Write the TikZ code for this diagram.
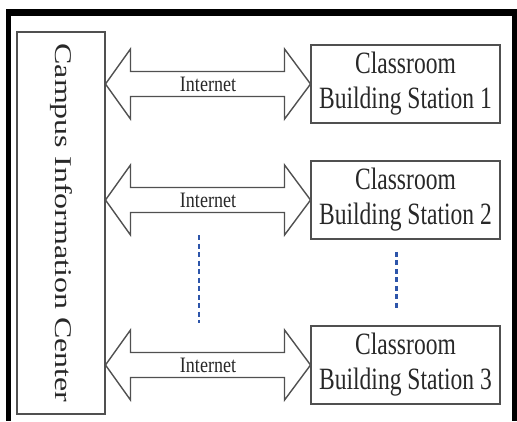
\documentclass[tikz,border=0pt]{standalone}
\usepackage{fontspec}
\setmainfont{Liberation Serif}
\usetikzlibrary{calc}
\definecolor{linegray}{RGB}{80,80,80}
\definecolor{textgray}{RGB}{40,40,40}
\definecolor{dotblue}{RGB}{45,85,170}

\begin{document}
\begin{tikzpicture}[
  x=1pt, y=-1pt,
  hub/.style={draw=linegray, line width=1.6pt, xscale=0.75, rotate=-90, minimum width=382pt, minimum height=117pt, inner sep=0pt, text=textgray, font=\fontsize{32}{36}\selectfont},
  station/.style={draw=linegray, line width=1.9pt, xscale=0.76, minimum width=248pt, minimum height=78pt, inner sep=0pt, align=center, text=textgray, font=\fontsize{31}{35}\selectfont},
  netarrow/.style={draw=linegray, line width=1.4pt, fill=white},
  netlabel/.style={xscale=0.82, inner sep=0pt, text=textgray, font=\fontsize{22}{24}\selectfont},
  gap/.style={draw=dotblue, line width=2.8pt, dash pattern=on 5pt off 3.5pt}
]
  \useasboundingbox (0,0) rectangle (517,421);
  % black frame, open at the bottom
  \fill[black] (6,9) rectangle (517,16);
  \fill[black] (6,9) rectangle (11,421);
  \fill[black] (512,9) rectangle (517,421);

  \node[hub] (campus) at (61,223) {Campus Information Center};

  \node[station] (st1) at (405.5,84) {Classroom\\Building Station 1};
  \node[station] (st2) at (405.5,200) {Classroom\\Building Station 2};
  \node[station] (st3) at (405.5,365) {Classroom\\Building Station 3};

  % two-headed links
  \foreach \i in {1,2,3} {
    \draw[netarrow] (campus.north |- st\i.west) coordinate (l\i)
      -- ++(25,-35) -- ++(0,22.5) -- ($(st\i.west)+(-26,-12.5)$)
      -- ++(0,-22.5) -- (st\i.west) -- ++(-26,35) -- ++(0,-22.5)
      -- ($(l\i)+(25,12.5)$) -- ++(0,22.5) -- cycle;
    \node[netlabel] (net\i) at ($(l\i)!0.5!(st\i.west)$) {Internet};
  }

  % more stations in between
  \draw[gap] ($(net2)+(-9,35)$) -- ($(net3)+(-9,-42)$);
  \draw[gap] ([xshift=-9pt,yshift=-12pt]st2.south) -- ([xshift=-9pt,yshift=14pt]st3.north);
\end{tikzpicture}
\end{document}
